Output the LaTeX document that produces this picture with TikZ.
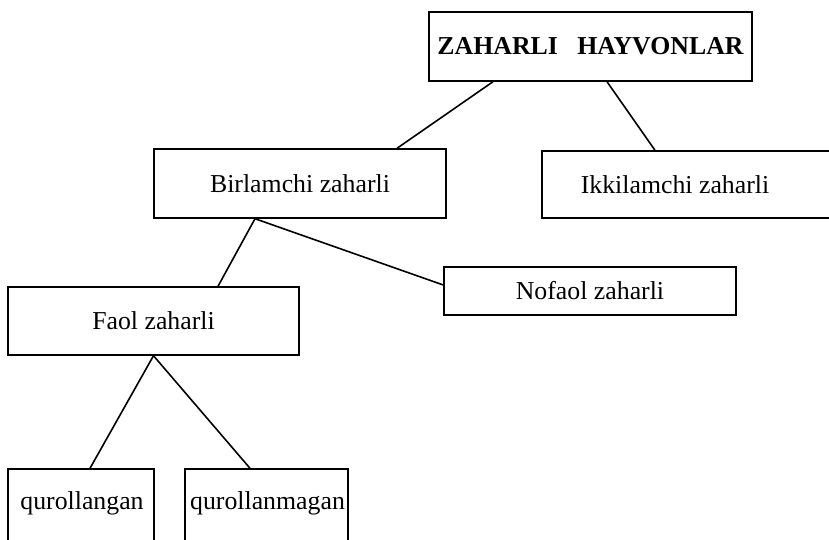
\documentclass[tikz,border=0pt]{standalone}
\usepackage{fontspec}
\setmainfont{Liberation Serif}
\usetikzlibrary{positioning}
\begin{document}
\begin{tikzpicture}[x=1pt,y=-1pt,
  box/.style={draw, line width=1.4pt, inner sep=0pt, rectangle},
  lbl/.style={inner sep=0pt, font=\fontsize{25.8}{30}\selectfont},
  link/.style={line width=1.6pt}]
\useasboundingbox (0,0) rectangle (829,539);
\clip (0,0) rectangle (829,539);
\fill[white] (0,0) rectangle (829,539);
% boxes
\node[box, minimum width=323pt, minimum height=69pt, font=\fontsize{25.8}{30}\selectfont\bfseries] (Z) at (590.5,46.5) {ZAHARLI\ \ \ HAYVONLAR};
\node[box, minimum width=292pt, minimum height=69pt, font=\fontsize{25.8}{30}\selectfont] (B) at (300,183.5) {Birlamchi zaharli};
\node[box, minimum width=300pt, minimum height=67pt] (I) at (692,184.5) {};
\node[lbl] (It) at (675,184.5) {Ikkilamchi zaharli};
\node[box, minimum width=292pt, minimum height=48pt, font=\fontsize{25.8}{30}\selectfont] (N) at (590,291) {Nofaol zaharli};
\node[box, minimum width=291pt, minimum height=68pt, font=\fontsize{25.8}{30}\selectfont] (F) at (153.5,321) {Faol zaharli};
\node[box, minimum width=146pt, minimum height=100pt] (Q1) at (81,519) {};
\node[lbl] (Q1t) at (82,503) {qurollangan};
\node[box, minimum width=163pt, minimum height=100pt] (Q2) at (266.5,519) {};
\node[lbl] (Q2t) at (267.5,503) {qurollanmagan};
% connectors
\draw[link] ([xshift=-97.5pt]Z.south) -- ([xshift=97pt]B.north);
\draw[link] ([xshift=16.5pt]Z.south) -- ([xshift=-37pt]I.north);
\draw[link] ([xshift=-45pt]B.south) -- ([xshift=64.5pt]F.north);
\draw[link] ([xshift=-45pt]B.south) -- ([yshift=6pt]N.west);
\draw[link] (F.south) -- ([xshift=9pt]Q1.north);
\draw[link] (F.south) -- ([xshift=-16.5pt]Q2.north);
\end{tikzpicture}
\end{document}
